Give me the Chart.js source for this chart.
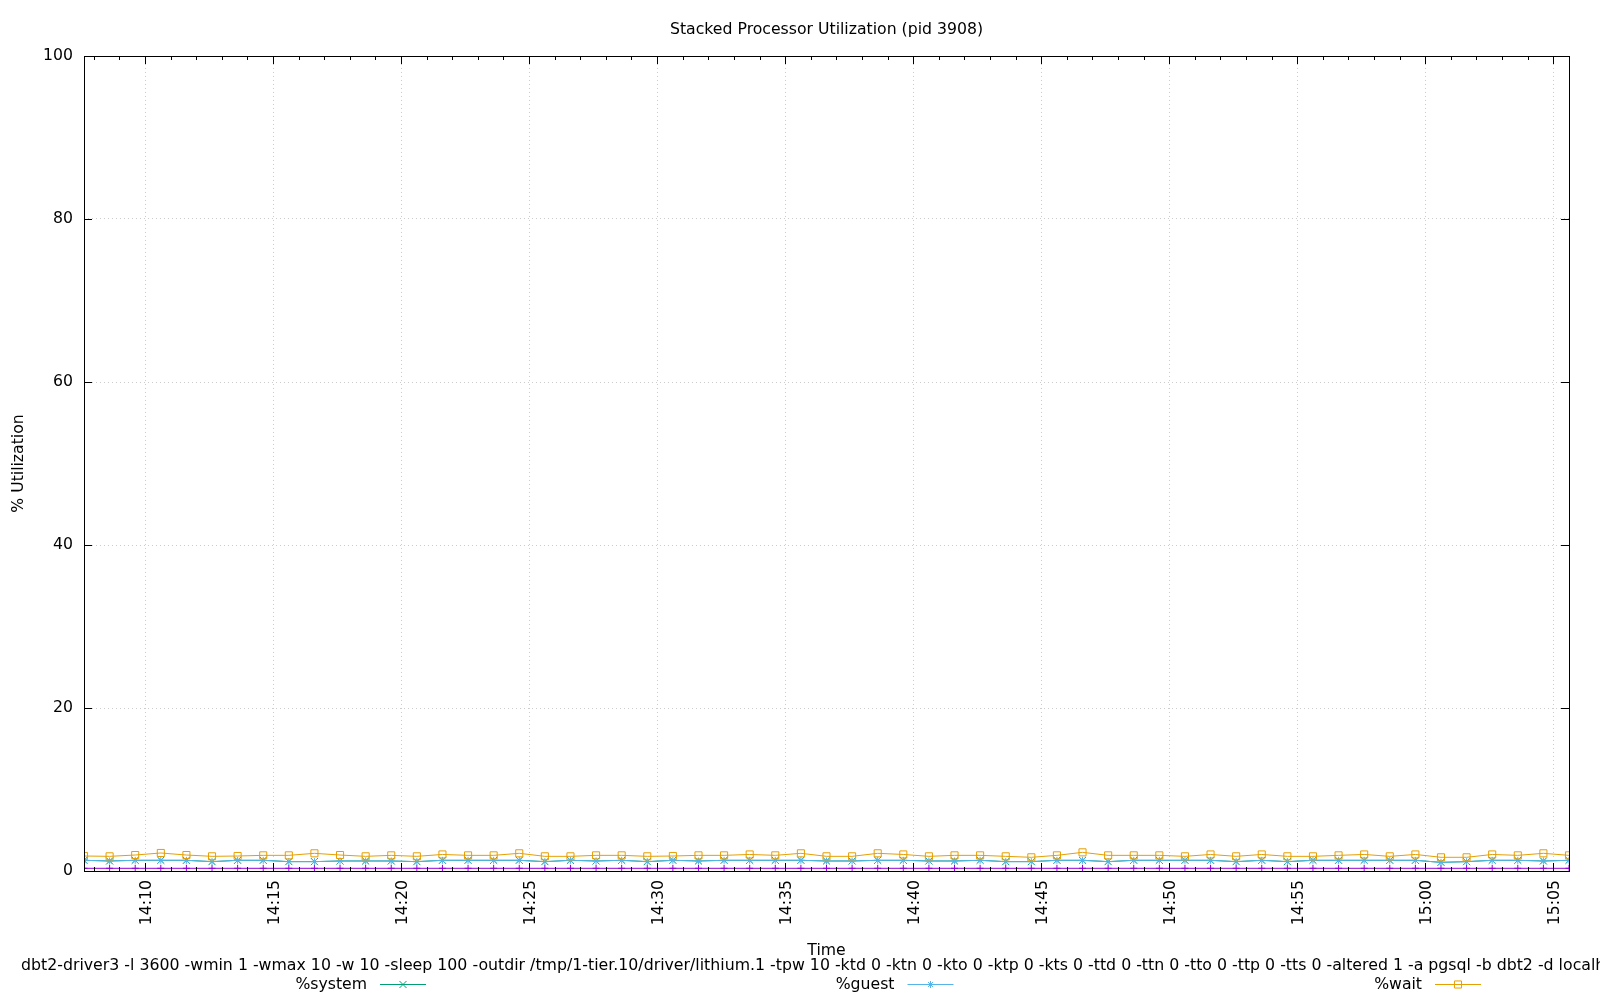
<!DOCTYPE html>
<html>
<head>
<meta charset="utf-8">
<script src="https://cdn.jsdelivr.net/npm/chart.js@4.4.1/dist/chart.umd.min.js"></script>
<style>
html,body{margin:0;padding:0;background:#ffffff;}
#wrap{width:1600px;height:1000px;position:relative;}
</style>
</head>
<body>
<div id="wrap"><canvas id="c" width="1600" height="1000"></canvas></div>
<script>
// ---- data ----
const times = [
 '14:07:37','14:08:37','14:09:37','14:10:37','14:11:37','14:12:37','14:13:37','14:14:37','14:15:37','14:16:37',
 '14:17:37','14:18:37','14:19:37','14:20:37','14:21:37','14:22:37','14:23:37','14:24:37','14:25:37','14:26:37',
 '14:27:37','14:28:37','14:29:37','14:30:37','14:31:37','14:32:37','14:33:37','14:34:37','14:35:37','14:36:37',
 '14:37:37','14:38:37','14:39:37','14:40:37','14:41:37','14:42:37','14:43:37','14:44:37','14:45:37','14:46:37',
 '14:47:37','14:48:37','14:49:37','14:50:37','14:51:37','14:52:37','14:53:37','14:54:37','14:55:37','14:56:37',
 '14:57:37','14:58:37','14:59:37','15:00:37','15:01:37','15:02:37','15:03:37','15:04:37','15:05:37'
];
const userPct = [
 0.33,0.33,0.33,0.33,0.33,0.33,0.33,0.33,0.33,0.33,
 0.33,0.33,0.33,0.33,0.33,0.33,0.33,0.33,0.33,0.33,
 0.33,0.33,0.33,0.33,0.33,0.33,0.33,0.33,0.33,0.33,
 0.33,0.33,0.33,0.33,0.33,0.33,0.33,0.33,0.33,0.33,
 0.33,0.33,0.33,0.33,0.33,0.33,0.33,0.33,0.33,0.33,
 0.33,0.33,0.33,0.33,0.33,0.33,0.33,0.33,0.33
];
const systemPct = [
 0.98,0.90,0.98,0.98,0.98,0.82,0.98,0.98,0.82,0.82,
 0.90,0.90,0.90,0.82,0.98,0.98,0.98,0.98,0.82,0.98,
 0.90,0.98,0.82,0.98,0.90,0.98,0.98,0.98,0.98,0.90,
 0.90,0.98,0.98,0.90,0.90,0.98,0.82,0.82,0.98,0.98,
 0.82,0.98,0.98,0.98,0.98,0.82,0.98,0.82,0.98,0.98,
 0.98,0.98,0.98,0.73,0.82,0.98,0.98,0.90,0.98
];
const guestPct = [
 0,0,0,0,0,0,0,0,0,0,
 0,0,0,0,0,0,0,0,0,0,
 0,0,0,0,0,0,0,0,0,0,
 0,0,0,0,0,0,0,0,0,0,
 0,0,0,0,0,0,0,0,0,0,
 0,0,0,0,0,0,0,0,0
];
const waitPct = [
 0.53,0.57,0.65,0.90,0.65,0.65,0.53,0.61,0.77,1.02,
 0.73,0.57,0.69,0.65,0.72,0.61,0.61,0.86,0.65,0.49,
 0.69,0.61,0.65,0.53,0.69,0.61,0.72,0.61,0.86,0.57,
 0.57,0.86,0.72,0.57,0.69,0.61,0.65,0.53,0.61,0.98,
 0.77,0.61,0.61,0.49,0.72,0.65,0.72,0.65,0.49,0.61,
 0.72,0.49,0.72,0.62,0.53,0.72,0.61,0.94,0.61
];
const seriesNames = ['%user','%system','%guest','%wait'];
const xTickLabels = ['14:10','14:15','14:20','14:25','14:30','14:35','14:40','14:45','14:50','14:55','15:00','15:05'];
const yTickValues = [0,20,40,60,80,100];
const chartTitle = 'Stacked Processor Utilization (pid 3908)';
const xTitle = 'Time';
const yTitle = '% Utilization';
const caption = 'dbt2-driver3 -l 3600 -wmin 1 -wmax 10 -w 10 -sleep 100 -outdir /tmp/1-tier.10/driver/lithium.1 -tpw 10 -ktd 0 -ktn 0 -kto 0 -ktp 0 -kts 0 -ttd 0 -ttn 0 -tto 0 -ttp 0 -tts 0 -altered 1 -a pgsql -b dbt2 -d localhost';

// ---- helpers ----
const toSec = s => { const p = s.split(':').map(Number); return p[0]*3600 + p[1]*60 + (p[2]||0); };
const fmt = v => { const h = Math.floor(v/3600), m = Math.floor((v%3600)/60); return h + ':' + String(m).padStart(2,'0'); };
const raw = [userPct, systemPct, guestPct, waitPct];
const cumulative = [];
raw.forEach((arr, k) => {
  cumulative.push(arr.map((v, i) => (k ? cumulative[k-1][i] : 0) + v));
});
const colors = ['#9400d3', '#009e73', '#56b4e9', '#e69f00'];
const styles = ['cross', 'crossRot', 'star', 'rect'];
const radii = [3.5, 5, 3.5, 5];
const FONT = '"DejaVu Sans", Verdana, sans-serif';
const FS = 15.7;

const datasets = raw.map((arr, k) => ({
  label: seriesNames[k],
  data: times.map((t, i) => ({x: toSec(t), y: cumulative[k][i]})),
  borderColor: colors[k],
  backgroundColor: colors[k],
  borderWidth: 1,
  pointStyle: styles[k],
  pointRadius: radii[k],
  pointBorderColor: colors[k],
  pointBackgroundColor: 'rgba(0,0,0,0)',
  pointBorderWidth: 1,
  tension: 0,
  fill: false,
  order: 4 - k
}));

const gnuplotDecor = {
  id: 'gnuplotDecor',
  afterDraw(chart) {
    const ctx = chart.ctx;
    const a = chart.chartArea;
    const xs = chart.scales.x, ys = chart.scales.y;
    ctx.save();
    // border
    ctx.strokeStyle = '#000';
    ctx.lineWidth = 1;
    ctx.strokeRect(Math.round(a.left) + 0.5, Math.round(a.top) + 0.5, Math.round(a.right - a.left), Math.round(a.bottom - a.top));
    // x ticks (major every 5 min, minor every minute), mirrored
    ctx.beginPath();
    const start = Math.ceil(xs.min / 60) * 60;
    for (let t = start; t <= xs.max; t += 60) {
      const px = Math.round(xs.getPixelForValue(t)) + 0.5;
      const major = (t / 60) % 5 === 0;
      const len = major ? 8 : 4;
      ctx.moveTo(px, a.bottom); ctx.lineTo(px, a.bottom - len);
      ctx.moveTo(px, a.top); ctx.lineTo(px, a.top + len);
    }
    yTickValues.forEach(v => {
      const py = Math.round(ys.getPixelForValue(v)) + 0.5;
      ctx.moveTo(a.left, py); ctx.lineTo(a.left + 8, py);
      ctx.moveTo(a.right, py); ctx.lineTo(a.right - 8, py);
    });
    ctx.stroke();
    // texts
    ctx.fillStyle = '#000';
    ctx.font = FS + 'px ' + FONT;
    ctx.textAlign = 'center';
    ctx.textBaseline = 'middle';
    const cx = (a.left + a.right) / 2;
    ctx.fillText(chartTitle, cx, 29.5);
    ctx.fillText(xTitle, cx, 951);
    ctx.save();
    ctx.translate(19, (a.top + a.bottom) / 2);
    ctx.rotate(-Math.PI / 2);
    ctx.fillText(yTitle, 0, 0);
    ctx.restore();
    ctx.textAlign = 'left';
    ctx.font = '15.78px ' + FONT;
    ctx.fillText(caption, 21, 966);
    ctx.font = FS + 'px ' + FONT;
    // legend (first entry lies off-canvas to the left, as in the reference)
    const keyCenters = [-124.5, 403, 930.5, 1458];
    raw.forEach((arr, k) => {
      const kc = keyCenters[k];
      ctx.textAlign = 'right';
      ctx.fillStyle = '#000';
      ctx.fillText(seriesNames[k], kc - 36, 985);
      ctx.strokeStyle = colors[k];
      ctx.lineWidth = 1;
      ctx.beginPath();
      ctx.moveTo(kc - 23, 984.5); ctx.lineTo(kc + 23, 984.5);
      ctx.stroke();
      ctx.fillStyle = 'rgba(0,0,0,0)';
      ctx.strokeStyle = colors[k];
      Chart.helpers.drawPoint(ctx, {pointStyle: styles[k], radius: radii[k], borderWidth: 1, rotation: 0}, kc, 984.5);
    });
    ctx.restore();
  }
};

new Chart(document.getElementById('c'), {
  type: 'line',
  data: { datasets },
  options: {
    responsive: false,
    animation: false,
    devicePixelRatio: 1,
    layout: { padding: { top: 56, right: 31, left: 0, bottom: 0 } },
    plugins: { legend: { display: false }, tooltip: { enabled: false }, title: { display: false } },
    scales: {
      x: {
        type: 'linear',
        min: toSec(times[0]),
        max: toSec(times[times.length - 1]),
        afterBuildTicks: s => { s.ticks = xTickLabels.map(l => ({ value: toSec(l) })); },
        afterFit: s => { s.height = 129; },
        ticks: {
          callback: v => fmt(v),
          autoSkip: false,
          minRotation: 90,
          maxRotation: 90,
          padding: 9,
          labelOffset: 2,
          color: '#000',
          font: { family: FONT, size: FS }
        },
        grid: { drawTicks: false, color: 'rgba(120,120,120,0.38)', lineWidth: 1 },
        border: { display: false, dash: [1, 3] }
      },
      y: {
        min: 0,
        max: 100,
        afterBuildTicks: s => { s.ticks = yTickValues.map(v => ({ value: v })); },
        afterFit: s => { s.width = 84; },
        ticks: {
          padding: 11,
          color: '#000',
          font: { family: FONT, size: FS }
        },
        grid: { drawTicks: false, color: 'rgba(120,120,120,0.38)', lineWidth: 1 },
        border: { display: false, dash: [1, 3] }
      }
    }
  },
  plugins: [gnuplotDecor]
});
</script>
</body>
</html>
